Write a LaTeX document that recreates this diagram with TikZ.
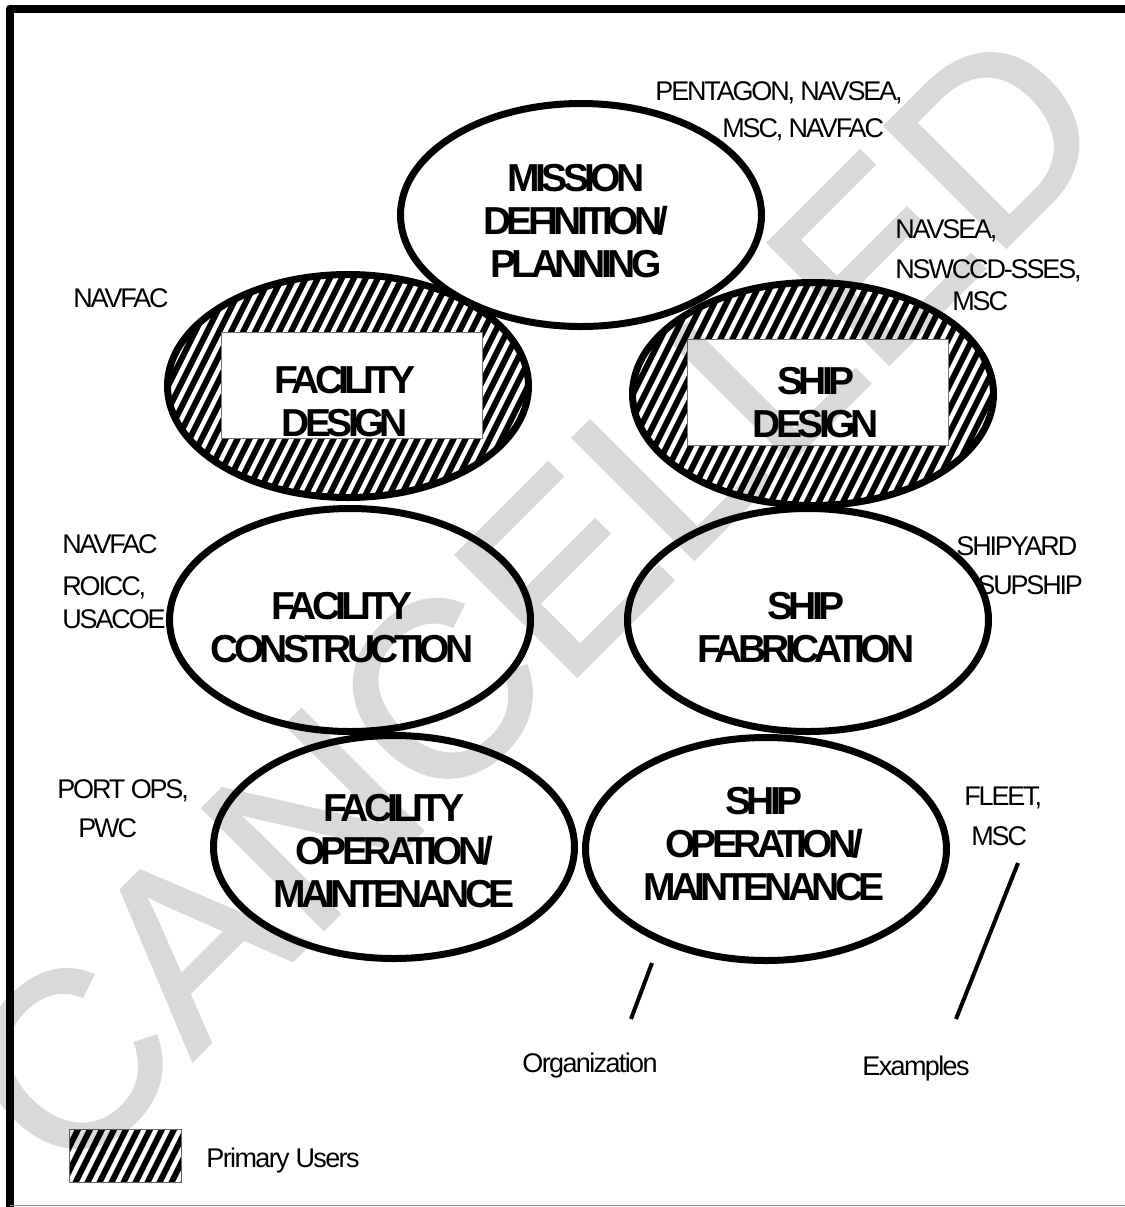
\documentclass[tikz,border=0pt]{standalone}
\usepackage{fontspec}
\setmainfont{Liberation Sans}
\newfontfamily\lblfont[LetterSpace=-8]{Liberation Sans}
\newfontfamily\lowfont[LetterSpace=-6]{Liberation Sans}
\newfontfamily\boldfont[LetterSpace=-12]{Liberation Sans}
\newfontfamily\wmfont[FakeBold=1.5]{Liberation Sans}
\usetikzlibrary{shapes.geometric}
\tikzset{
  hatchfill/.style={path picture={
    \foreach \i in {-24,...,24}
      \draw[line width=3pt,black] ([shift={(\i*12-70,140)}]path picture bounding box.center) -- ++(140,-280);
  }},
  bubble/.style={ellipse, draw=black, line width=3.5pt, fill=white, inner sep=0pt,
    minimum width=180.5pt, minimum height=111.5pt},
  hbubble/.style={bubble, hatchfill},
  whitebox/.style={rectangle, draw=black!55, line width=0.5pt, fill=white, inner sep=0pt,
    minimum width=130.5pt, minimum height=53pt},
  boldtext/.style={inner sep=0pt, align=center, font=\boldfont\bfseries\fontsize{19.5}{21.5}\selectfont},
  lbl/.style={inner sep=0pt, anchor=base west, font=\lblfont\fontsize{13.5}{16}\selectfont},
  lowlbl/.style={inner sep=0pt, anchor=base west, font=\lowfont\fontsize{13.5}{16}\selectfont},
  conn/.style={line width=2pt, black},
  legendbox/.style={rectangle, draw=black!60, line width=0.5pt, fill=white, inner sep=0pt,
    minimum width=56pt, minimum height=26.5pt, hatchfill}
}
\begin{document}
\begin{tikzpicture}[x=0.5pt, y=-0.5pt]
\useasboundingbox (0,0) rectangle (1125,1207);
\fill[white] (0,0) rectangle (1125,1207);
% frame
\draw[line width=4pt, line join=round] (9.5,1207) -- (9.5,8.5) -- (1125,8.5);
\draw[black!45, line width=0.75pt] (9.5,1205.5) -- (1125,1205.5);

% ellipses
\node[hbubble] (fd) at (348,386) {};
\node[hbubble] (sd) at (813,394) {};
\node[whitebox] (fdbox) at (351.5,385) {};
\node[whitebox] (sdbox) at (818,392) {};
\node[boldtext] (fdtext) at (345,402) {FACILITY\\DESIGN};
\node[boldtext] (sdtext) at (816,403) {SHIP\\DESIGN};
\node[bubble] (fc) at (350,620) {};
\node[bubble] (sf) at (808,620) {};
\node[bubble] (fo) at (394,847) {};
\node[bubble] (so) at (766,849) {};
\node[bubble] (md) at (581,215) {};
\node[boldtext] (fctext) at (342,628) {FACILITY\\CONSTRUCTION};
\node[boldtext] (sftext) at (806,628) {SHIP\\FABRICATION};
\node[boldtext] (fotext) at (394,851) {FACILITY\\OPERATION/\\MAINTENANCE};
\node[boldtext] (sotext) at (764,844) {SHIP\\OPERATION/\\MAINTENANCE};
\node[boldtext] (mdtext) at (576,221) {MISSION\\DEFINITION/\\PLANNING};

% labels
\node[lbl] (l1) at (655,100) {PENTAGON, NAVSEA,};
\node[lbl] (l2) at (722,137) {MSC, NAVFAC};
\node[lbl] (l3) at (895,238) {NAVSEA,};
\node[lbl] (l4) at (895,278) {NSWCCD-SSES,};
\node[lbl] (l5) at (952,310) {MSC};
\node[lbl] (l6) at (73,307) {NAVFAC};
\node[lbl] (l7) at (62,553) {NAVFAC};
\node[lbl] (l8) at (62,595) {ROICC,};
\node[lbl] (l9) at (62,628) {USACOE};
\node[lbl] (l10) at (956,555) {SHIPYARD};
\node[lbl] (l11) at (977,594) {SUPSHIP};
\node[lbl] (l12) at (57,798) {PORT OPS,};
\node[lbl] (l13) at (78,837) {PWC};
\node[lbl] (l14) at (964,805) {FLEET,};
\node[lbl] (l15) at (971,845) {MSC};
\node[lowlbl] (org) at (522,1072) {Organization};
\node[lowlbl] (ex) at (862,1075) {Examples};
\node[legendbox] (leg) at (125,1155.5) {};
\node[lowlbl] (pu) at (206,1167) {Primary Users};

% pointer lines
\coordinate (orgA) at (652,963);
\coordinate (orgB) at (631,1019);
\coordinate (exA) at (1018,863);
\coordinate (exB) at (956,1019);
\draw[conn] (orgA) -- (orgB);
\draw[conn] (exA) -- (exB);

% watermark
\begin{scope}[transparency group, opacity=0.15]
\node[inner sep=0pt, rotate=45, text=black,
  font=\wmfont\fontsize{124}{124}\selectfont] (wm) at (532,600) {CANCELLED};
\end{scope}
\end{tikzpicture}
\end{document}
